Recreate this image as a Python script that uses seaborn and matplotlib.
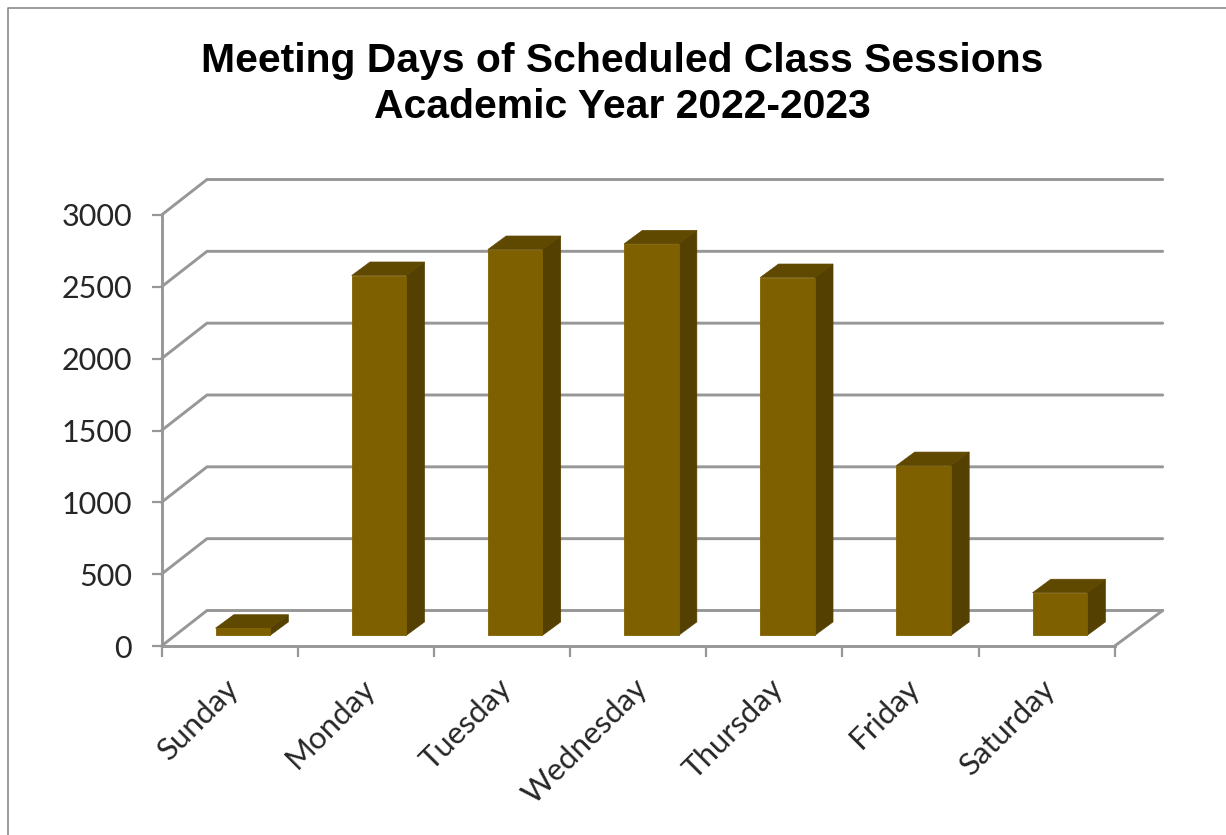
import numpy as np
import pandas as pd
import seaborn as sns
import matplotlib.pyplot as plt
from matplotlib.lines import Line2D
from matplotlib.patches import Polygon
from matplotlib.transforms import IdentityTransform, ScaledTranslation

days = ['Sunday', 'Monday', 'Tuesday', 'Wednesday', 'Thursday', 'Friday', 'Saturday']
sessions = [50, 2505, 2686, 2725, 2491, 1182, 297]
y_ticks = [0, 500, 1000, 1500, 2000, 2500, 3000]
title = 'Meeting Days of Scheduled Class Sessions\nAcademic Year 2022-2023'

W, H, DPI = 1226, 835, 100
FRONT = '#7f6000'
SIDE = '#544000'
TOP = '#5f4800'
LINE = '#979797'

sns.set_theme(style='white')
plt.rcParams['font.family'] = ['Lato', 'DejaVu Sans']

fig = plt.figure(figsize=(W/DPI, H/DPI), dpi=DPI)
# front plane of the fake 3d box, in pixels from the top left
left, right, top, bottom = 161.5, 1114.7, 215, 646
ax = fig.add_axes([left/W, 1-bottom/H, (right-left)/W, (bottom-top)/H])

df = pd.DataFrame({'day': days, 'sessions': sessions})
sns.barplot(data=df, x='day', y='sessions', color=FRONT, saturation=1, width=0.4, ax=ax, zorder=5,
            edgecolor=FRONT, linewidth=0.6)
ax.set_xlim(-0.5, 6.5)
ax.set_ylim(0, 3000)
ax.set_xlabel('')
ax.set_ylabel('')
ax.patch.set_visible(False)

def px(x, y, dx=0, dy=0):
    p = ax.transData.transform((x, y))
    return p[0]+dx, p[1]+dy

# back wall and floor
wall_x, wall_y = 45.5, 35.5
wall_x_right = 48
for v in y_ticks:
    x0, y0 = px(-0.5, v)
    x1, y1 = px(6.5, v, wall_x_right, wall_y)
    ax.add_line(Line2D([x0, x0+wall_x, x1], [y0, y0+wall_y, y1], color=LINE, lw=2.1,
                       transform=IdentityTransform(), clip_on=False, zorder=1, solid_joinstyle='miter'))
x0, y0 = px(6.5, 0)
ax.add_line(Line2D([x0, x0+wall_x_right], [y0, y0+wall_y], color=LINE, lw=2.1,
                   transform=IdentityTransform(), clip_on=False, zorder=1))

# bars sit a bit inside the box, with a side and a top face
bar_x, bar_y = 13.2, 10.6
depth_x, depth_y = 18.3, 13.5
shift = ScaledTranslation(bar_x/DPI, bar_y/DPI, fig.dpi_scale_trans)
for bar in list(ax.patches):
    a, b = bar.get_x(), bar.get_x()+bar.get_width()
    h = bar.get_height()
    p_a = px(a, h, bar_x, bar_y)
    p_b = px(b, h, bar_x, bar_y)
    p_0 = px(b, 0, bar_x, bar_y)
    side = [p_0, p_b, (p_b[0]+depth_x, p_b[1]+depth_y), (p_0[0]+depth_x, p_0[1]+depth_y)]
    roof = [p_a, p_b, (p_b[0]+depth_x, p_b[1]+depth_y), (p_a[0]+depth_x, p_a[1]+depth_y)]
    ax.add_patch(Polygon(side, closed=True, fc=SIDE, ec=SIDE, lw=0.5, transform=IdentityTransform(), clip_on=False, zorder=4))
    ax.add_patch(Polygon(roof, closed=True, fc=TOP, ec=TOP, lw=0.5, transform=IdentityTransform(), clip_on=False, zorder=4))
    bar.set_transform(ax.transData + shift)
    bar.set_clip_on(False)

# axes
for s in ['top', 'right']:
    ax.spines[s].set_visible(False)
for s in ['left', 'bottom']:
    ax.spines[s].set_color(LINE)
    ax.spines[s].set_linewidth(2.1)
    ax.spines[s].set_zorder(2)

ax.set_yticks(y_ticks)
ax.tick_params(axis='y', length=7.2, width=1.6, color=LINE, pad=14, labelsize=22, labelcolor='#262626', left=True)
ax.set_xticks(range(len(days)))
ax.set_xticks(np.arange(-0.5, 7), minor=True)
ax.tick_params(axis='x', which='major', length=0, pad=20, labelsize=22.5, labelcolor='#262626')
ax.tick_params(axis='x', which='minor', length=8, width=1.6, color=LINE, bottom=True)
plt.setp(ax.get_xticklabels(), rotation=45, ha='right', rotation_mode='anchor')
nudge = ScaledTranslation(-5/DPI, 0, fig.dpi_scale_trans)
for t in ax.get_xticklabels():
    t.set_transform(t.get_transform() + nudge)

fig.text(622/W, 1-84/H, title, ha='center', va='center', fontsize=29.4, fontweight='bold',
         color='black', family=['Liberation Sans'], linespacing=1.24)

# screenshot border, left and top only
fig.add_artist(Line2D([8/W, 8/W, 1], [0, 1-8/H, 1-8/H], color='#8a8a8a', lw=1.2))

fig.savefig('out.png', dpi=DPI)
